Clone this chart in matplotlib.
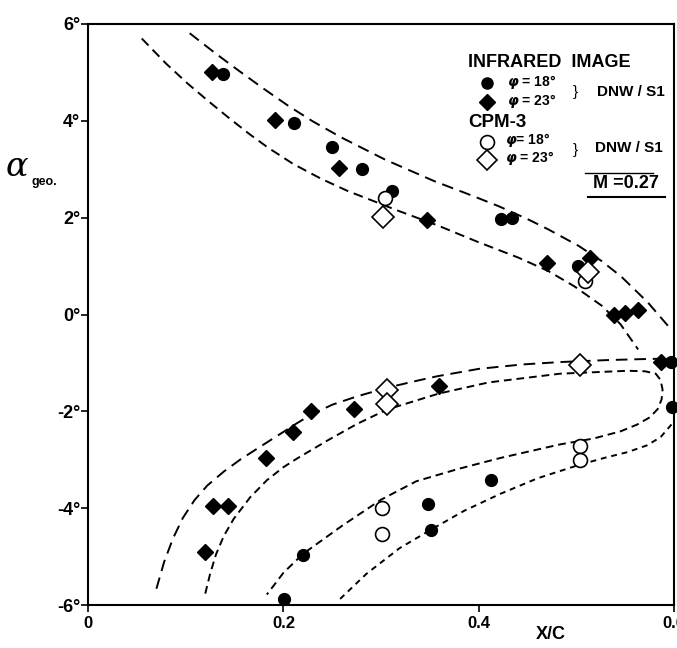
import matplotlib
matplotlib.use('Agg')
import matplotlib.pyplot as plt

plt.rcParams['font.family'] = ['Liberation Sans', 'DejaVu Sans']
plt.rcParams['font.weight'] = 'bold'

# measured points (x/c, alpha_geo in degrees)
ir18_x = [0.138, 0.211, 0.250, 0.280, 0.311, 0.423, 0.434, 0.501, 0.597,
          0.598, 0.201, 0.220, 0.348, 0.351, 0.412]
ir18_y = [4.96, 3.95, 3.47, 3.00, 2.56, 1.97, 2.00, 1.00, -0.97,
          -1.90, -5.87, -4.96, -3.92, -4.44, -3.42]

ir23_x = [0.127, 0.191, 0.257, 0.347, 0.470, 0.514, 0.538, 0.550, 0.563,
          0.586, 0.359, 0.228, 0.272, 0.210, 0.182, 0.128, 0.143, 0.120]
ir23_y = [5.00, 4.02, 3.02, 1.96, 1.07, 1.16, 0.00, 0.03, 0.10,
          -0.97, -1.48, -1.99, -1.95, -2.42, -2.97, -3.95, -3.95, -4.90]

cpm18_x = [0.304, 0.509, 0.301, 0.301, 0.503, 0.503]
cpm18_y = [2.40, 0.70, -3.99, -4.52, -2.71, -3.00]

cpm23_x = [0.302, 0.512, 0.306, 0.306, 0.504]
cpm23_y = [2.02, 0.88, -1.56, -1.85, -1.04]

# dashed fairing curves
curve_a_x = [0.104, 0.130, 0.154, 0.180, 0.205, 0.230, 0.259, 0.304, 0.355,
             0.390, 0.420, 0.450, 0.471, 0.502, 0.526, 0.546, 0.573, 0.596]
curve_a_y = [5.81, 5.40, 5.04, 4.66, 4.31, 3.99, 3.66, 3.20, 2.75,
             2.48, 2.24, 1.97, 1.76, 1.42, 1.10, 0.78, 0.25, -0.29]

curve_b_x = [0.055, 0.080, 0.102, 0.123, 0.143, 0.165, 0.184, 0.210, 0.239,
             0.266, 0.294, 0.314, 0.358, 0.399, 0.440, 0.471, 0.498, 0.526,
             0.545, 0.563]
curve_b_y = [5.70, 5.18, 4.77, 4.41, 4.08, 3.73, 3.45, 3.11, 2.80,
             2.55, 2.33, 2.17, 1.84, 1.50, 1.18, 0.90, 0.58, 0.18,
             -0.20, -0.72]

curve_c_x = [0.070, 0.078, 0.087, 0.097, 0.109, 0.122, 0.139, 0.156, 0.176,
             0.197, 0.214, 0.228, 0.250, 0.275, 0.306, 0.340, 0.358, 0.400,
             0.444, 0.483, 0.530, 0.565, 0.588]
curve_c_y = [-5.66, -5.10, -4.62, -4.20, -3.83, -3.53, -3.24, -2.99, -2.73,
             -2.46, -2.24, -2.07, -1.86, -1.69, -1.51, -1.35, -1.27, -1.12,
             -1.03, -0.98, -0.94, -0.92, -0.91]

curve_d_x = [0.120, 0.125, 0.131, 0.139, 0.149, 0.166, 0.183, 0.200, 0.214,
             0.245, 0.275, 0.306, 0.359, 0.410, 0.483, 0.552, 0.570, 0.581,
             0.586, 0.588, 0.587, 0.583, 0.575, 0.562, 0.545, 0.517, 0.483,
             0.422, 0.380, 0.336, 0.300, 0.260, 0.220, 0.200, 0.183]
curve_d_y = [-5.76, -5.35, -4.95, -4.57, -4.22, -3.77, -3.42, -3.15, -2.97,
             -2.60, -2.26, -1.96, -1.63, -1.40, -1.22, -1.16, -1.17, -1.22,
             -1.35, -1.55, -1.75, -1.95, -2.12, -2.27, -2.41, -2.56, -2.68,
             -2.96, -3.18, -3.44, -3.82, -4.36, -4.94, -5.33, -5.78]

curve_f_x = [0.258, 0.285, 0.319, 0.351, 0.385, 0.422, 0.460, 0.503, 0.530,
             0.552, 0.572, 0.586, 0.600]
curve_f_y = [-5.87, -5.35, -4.82, -4.44, -4.05, -3.70, -3.38, -3.10, -2.95,
             -2.84, -2.70, -2.53, -2.20]

yticks = [-6, -4, -2, 0, 2, 4, 6]
ytick_labels = ['-6°', '-4°', '-2°', '0°', '2°', '4°', '6°']
xticks = [0, 0.2, 0.4, 0.6]
xtick_labels = ['0', '0.2', '0.4', '0.6']


def main():
    fig = plt.figure(figsize=(6.77, 6.48), dpi=100)
    ax = fig.add_axes([0.130, 0.066, 0.866, 0.897])

    dash_kw = dict(color='black', lw=1.4)
    ax.plot(curve_a_x, curve_a_y, dashes=(6, 3.5), **dash_kw)
    ax.plot(curve_b_x, curve_b_y, dashes=(5, 3), **dash_kw)
    ax.plot(curve_c_x, curve_c_y, dashes=(6, 3.5), **dash_kw)
    ax.plot(curve_d_x, curve_d_y, dashes=(4, 2.5), **dash_kw)
    ax.plot(curve_f_x, curve_f_y, dashes=(3, 2.5), **dash_kw)

    ax.plot(ir18_x, ir18_y, 'o', ms=8.5, color='black', clip_on=False)
    ax.plot(ir23_x, ir23_y, 'D', ms=8.5, color='black', clip_on=False)
    ax.plot(cpm18_x, cpm18_y, 'o', ms=10, mfc='white', mec='black', mew=1.2)
    ax.plot(cpm23_x, cpm23_y, 'D', ms=11, mfc='white', mec='black', mew=1.2)

    ax.set_xlim(0, 0.6)
    ax.set_ylim(-6, 6)
    ax.set_xticks(xticks)
    ax.set_xticklabels(xtick_labels, fontsize=12, fontweight='bold')
    ax.set_yticks(yticks)
    ax.set_yticklabels(ytick_labels, fontsize=13, fontweight='bold')
    ax.tick_params(direction='out', length=5, width=1.2)
    ax.tick_params(axis='y', pad=0.5)
    ax.tick_params(axis='x', pad=3)
    for s in ax.spines.values():
        s.set_linewidth(1.5)

    # legend block
    tr = ax.transAxes
    ax.text(0.648, 0.933, 'INFRARED  IMAGE', transform=tr, fontsize=13,
            fontweight='bold', va='center')
    ax.plot([0.680], [0.898], 'o', ms=8, color='black', transform=tr)
    ax.plot([0.681], [0.866], 'D', ms=8, color='black', transform=tr)
    ax.text(0.714, 0.900, r'$\varphi$ = 18°', transform=tr, fontsize=10, va='center')
    ax.text(0.714, 0.867, r'$\varphi$ = 23°', transform=tr, fontsize=10, va='center')
    ax.text(0.826, 0.883, '}', transform=tr, fontsize=11, fontweight='normal', va='center')
    ax.text(0.869, 0.883, 'DNW / S1', transform=tr, fontsize=11, va='center')

    ax.text(0.648, 0.830, 'CPM-3', transform=tr, fontsize=13.5, va='center')
    ax.plot([0.681], [0.797], 'o', ms=10, mfc='white', mec='black', mew=1.2, transform=tr)
    ax.plot([0.681], [0.766], 'D', ms=10, mfc='white', mec='black', mew=1.2, transform=tr)
    ax.text(0.712, 0.800, r'$\varphi$= 18°', transform=tr, fontsize=10, va='center')
    ax.text(0.712, 0.769, r'$\varphi$ = 23°', transform=tr, fontsize=10, va='center')
    ax.text(0.826, 0.783, '}', transform=tr, fontsize=11, fontweight='normal', va='center')
    ax.text(0.865, 0.787, 'DNW / S1', transform=tr, fontsize=11, va='center')

    ax.text(0.862, 0.726, 'M =0.27', transform=tr, fontsize=13, va='center')
    ax.plot([0.848, 0.964], [0.744, 0.744], color='black', lw=1.0, transform=tr)
    ax.plot([0.852, 0.985], [0.702, 0.702], color='black', lw=1.5, transform=tr)

    ax.text(0.79, -0.05, 'X/C', transform=tr, fontsize=13, ha='center', va='center')
    fig.text(0.025, 0.742, 'α', fontsize=24, ha='center', va='center',
             fontfamily='DejaVu Serif', fontstyle='italic', fontweight='normal')
    fig.text(0.066, 0.719, 'geo.', fontsize=9, ha='center', va='center')

    fig.savefig('out.png', dpi=100)
    plt.close(fig)


if __name__ == '__main__':
    main()
